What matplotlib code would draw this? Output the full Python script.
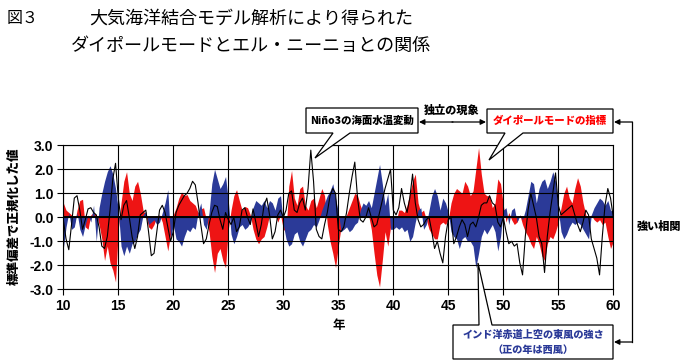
import numpy as np
import matplotlib
matplotlib.use("Agg")
import matplotlib.pyplot as plt
from matplotlib.patches import Polygon
from matplotlib.lines import Line2D

plt.rcParams['font.family'] = ['Noto Sans CJK JP', 'DejaVu Sans']
plt.rcParams['axes.unicode_minus'] = False

# quarterly samples, year 10 to 60
years = np.arange(10, 60.001, 0.25)

# dipole mode index (red)
dipole = (
    [0.6, 0.3, 0.2, 0.1, -0.3, 0.3, 0.7, 0.75, -0.4, -0.5, 0.1, 0.2, 0.1, -0.3, -0.9, -1.8, -1.2, -1.9, -2.2, -2.7,
     -0.5, 0.6, 1.5, 1.9, 1.0, 0.7, 1.3, 1.5, 1.0, 0.3, 0.1, -0.4, -0.5, -0.3, 0.05, 0.1, -0.2, -0.8, -1.4, -0.7]
    + [0.1, 0.4, 0.8, 1.05, 0.9, 0.95, 0.7, 0.6, 0.5, 0.2, 0.35, 0.4, -0.1, -0.6, -1.6, -2.3, -1.5, -1.3, -1.8, -2.1,
       -0.5, 0.3, 0.9, 1.15, 0.7, 0.3, 0.45, 0.4, 0.1, -0.5, -0.9, -1.1, -0.9, -0.8, -0.4, 0.1, 0.2, 0.1, -0.2, 0.1]
    + [-0.5, -0.6, 1.3, 1.95, 0.8, 0.5, 1.2, 1.3, 0.5, 0.3, 0.7, 0.8, 0.4, 0.8, 1.2, 0.9, -0.3, -1.0, -1.5, -2.1,
       -1.2, -0.4, -0.5, 0.1, 0.4, 0.7, 1.0, 0.9, 0.5, 0.2, 0.3, 0.1, -0.5, -1.5, -2.4, -2.9, -1.8, -0.6, -1.2, -0.4]
    + [-0.3, -0.2, 0.3, 0.3, 0.2, 0.5, 1.0, 1.5, 1.8, 0.6, 0.2, 0.3, -0.1, -0.5, -0.7, -0.9, -0.9, -0.3, -0.2, -0.3,
       -0.1, 0.6, 1.0, 1.2, 1.1, 1.0, 1.5, 1.3, 0.9, 1.1, 2.0, 2.9, 1.8, 1.0, 0.9, 0.9, 0.4, 0.6, 1.6, 1.4]
    + [0.5, -0.2, 0.2, -0.1, -0.3, -0.2, 0.1, -0.3, -0.6, -0.8, -1.1, -1.3, -0.8, -1.1, -1.6, -1.8, -1.1, -0.8, -0.9, -0.6,
       -0.2, 0.4, 1.0, 1.3, 0.8, 0.6, 1.2, 1.65, 1.3, 0.6, 0.1, -0.2, 0.1, -0.1, -0.2, -0.1, -0.3, -0.2, -0.8, -1.3, -1.0]
)

# equatorial Indian Ocean wind (blue)
wind = (
    [-1.3, -0.4, 0.2, -0.5, -0.4, 0.2, -0.5, -0.8, -0.3, 0.1, -0.2, 0.5, -1.0, 0.4, 1.0, 1.5, 1.9, 2.15, 1.8, 1.2,
     0.3, -1.2, -1.6, -1.2, -1.5, -1.1, -1.0, -0.7, -0.5, 0.1, 0.25, -0.3, -0.2, -0.1, -0.3, -0.2, 0.2, 0.6, 1.15, -0.9]
    + [-0.3, -0.9, -1.0, -1.2, -0.8, -0.5, -0.6, -0.4, -0.5, 0.2, 0.6, -0.3, -0.5, 0.2, 1.4, 2.0, 1.6, 1.2, 1.4, 1.7,
       0.7, -0.7, -1.1, -0.8, -0.4, -0.3, -0.5, -0.4, -0.2, 0.4, 0.7, 0.6, 0.5, 0.7, 0.4, 0.7, 0.6, 0.3, 0.8, 0.9]
    + [-0.3, -0.9, -1.2, -1.1, -0.7, -0.6, -1.0, -1.2, -0.9, -0.6, -0.5, -0.3, -0.4, -0.1, 0.3, 0.6, 0.9, 1.1, 1.4, 0.8,
       0.2, -0.6, -0.5, -0.4, -0.6, -0.5, -0.3, -0.2, 0.3, 0.6, 0.5, 0.7, 0.4, 1.0, 1.6, 2.2, 1.4, 0.5, 1.0, -0.5]
    + [-0.5, -0.4, -0.5, -0.4, -0.6, -0.5, -1.0, -0.8, -0.2, 0.3, 0.4, -0.5, -0.3, 0.3, 0.9, 1.2, 0.9, 0.3, 0.8, 0.6,
       0.2, -0.6, -0.8, -0.9, -1.3, -0.9, -0.8, -1.0, -1.0, -1.2, -2.1, -1.5, -0.8, -0.5, -0.7, -0.5, -0.3, -0.6, -1.4, -0.8]
    + [0.3, 0.4, -0.3, 0.3, 0.4, -0.2, 0.1, -0.1, 0.3, 0.9, 1.5, 1.4, 0.6, 1.2, 1.5, 1.6, 1.2, 1.5, 1.9, 1.5,
       0.3, -0.6, -0.9, -0.7, -0.4, -0.2, -0.3, -0.2, -0.3, -0.5, -0.7, -0.9, 0.1, 0.4, 0.6, 0.8, 0.7, 0.5, 0.7, 0.3, 0.2]
)

# Nino3 SST anomaly (black line)
nino3 = (
    [-0.1, -0.9, -1.35, -0.3, 0.8, 0.9, 0.3, -0.5, -0.1, 0.35, 0.4, 0.2, 0.1, -0.4, -1.2, -1.3, -0.8, 0.3, 1.6, 2.25,
     0.8, -0.1, 0.5, 0.7, 0.0, -0.8, -1.3, -0.8, 0.1, 0.2, 0.3, -0.6, -1.6, -1.5, -0.6, 0.3, 0.5, 0.2, -0.4, -1.0]
    + [-0.6, 0.2, 0.5, 0.7, 0.9, 1.0, 1.2, 1.5, 1.35, 0.6, -0.3, -1.1, -0.9, -0.3, 0.2, 0.5, 0.45, -0.1, -0.5, 0.2,
       -0.1, -0.3, 0.0, -0.6, -0.4, 0.3, 0.4, 0.0, -0.3, 0.35, -0.2, -0.8, -0.3, 0.5, 0.8, 0.1, -0.9, -0.6, 0.1, 0.3]
    + [0.0, 0.3, 1.0, 1.1, 0.3, 0.2, 0.6, 0.8, 0.3, 1.2, 2.8, 1.5, -0.5, -0.8, -0.9, -0.3, 0.2, 0.9, 1.2, 1.0,
       -0.5, -0.6, -0.4, 0.2, 1.0, 1.7, 2.3, 0.8, -0.1, -0.2, 0.0, 0.4, 0.0, -0.4, -0.3, 0.2, 0.7, 1.2, 1.6, 2.0]
    + [0.3, 0.1, 0.4, 1.2, 0.6, 0.2, 0.8, 1.8, 0.6, -0.1, -0.4, -0.3, -0.1, 0.0, -0.6, -1.3, -1.0, -1.5, -1.9, -0.8,
       -0.1, 0.0, -1.1, -0.8, -0.4, -0.1, -0.3, -0.8, -0.3, -0.2, -0.4, 0.0, 0.5, 0.6, 0.6, 0.9, 0.6, 0.5, -0.2, -0.4]
    + [0.0, -0.6, -1.1, -1.0, -1.2, -1.1, -1.9, -2.4, -0.8, 0.3, 1.0, 0.5, 0.0, -0.8, -1.1, -2.3, -0.8, 0.2, 1.0, 1.85,
       0.5, 0.1, 0.2, 0.3, 0.4, 0.5, 0.1, -0.3, -0.6, -0.2, 0.3, 0.1, -0.9, -1.3, -1.7, -2.4, -0.8, 0.5, 1.2, 0.8, 0.0]
)

RED = '#ee1414'
BLUE = '#2b3a98'
W, H = 688, 364


def fx(x):
    return x / W


def fy(y):
    return 1 - y / H


fig = plt.figure(figsize=(6.88, 3.64), dpi=100)
ax = fig.add_axes([fx(63.3), fy(289.3), (613.3 - 63.3) / W, (289.3 - 145.3) / H])

ax.fill_between(years, dipole, 0, interpolate=True, color=RED, lw=0, zorder=1)
ax.fill_between(years, wind, 0, interpolate=True, color=BLUE, lw=0, zorder=1.2)
ax.plot(years, nino3, color='black', lw=0.8, zorder=3)
ax.axhline(0, color='black', lw=1.4, zorder=2.8)

ax.set_xlim(10, 60)
ax.set_ylim(-3, 3)
ax.set_xticks(np.arange(10, 61, 5))
ax.set_yticks(np.arange(-3, 3.1, 1))
ax.set_yticklabels([f'{v:.1f}' for v in np.arange(-3, 3.1, 1)])
ax.set_axisbelow(False)
ax.grid(True, color='black', lw=0.8)
for s in ax.spines.values():
    s.set_linewidth(0.8)
ax.tick_params(direction='out', length=4.5, width=0.8, color='black', pad=2.5)
for lab in ax.get_xticklabels() + ax.get_yticklabels():
    lab.set_family('Liberation Sans')
    lab.set_fontweight('bold')
    lab.set_fontsize(10)

ax.set_xlabel('年', fontsize=9, fontweight='bold', labelpad=4)
fig.text(fx(13), fy(216), '標準偏差で正規化した値', rotation=90, ha='center', va='center',
         fontsize=9, fontweight='heavy')

# title
fig.text(fx(7), fy(18), '図３', ha='left', va='center', fontsize=11.5)
fig.text(fx(251), fy(19), '大気海洋結合モデル解析により得られた', ha='center', va='center', fontsize=13)
fig.text(fx(251), fy(46), 'ダイポールモードとエル・ニーニョとの関係', ha='center', va='center', fontsize=13)


def callout(pts):
    poly = Polygon([(fx(x), fy(y)) for x, y in pts], closed=True, transform=fig.transFigure,
                   facecolor='white', edgecolor='black', lw=0.9, zorder=5)
    fig.add_artist(poly)


callout([(306, 108), (418, 108), (418, 133), (350, 133), (315, 158), (333, 133), (306, 133)])
callout([(487, 109), (613, 109), (613, 133), (523, 133), (489, 160), (505, 133), (487, 133)])
callout([(453, 325), (479, 325), (478, 263), (492, 325), (613, 325), (613, 359), (453, 359)])

fig.text(fx(362), fy(121), 'Niño3の海面水温変動', ha='center', va='center', fontsize=7.5,
         fontweight='heavy', zorder=6)
fig.text(fx(550), fy(121), 'ダイポールモードの指標', ha='center', va='center', fontsize=7.5,
         fontweight='heavy', color='#ff0000', zorder=6)
fig.text(fx(533), fy(335), 'インド洋赤道上空の東風の強さ', ha='center', va='center', fontsize=7.3,
         fontweight='heavy', color=BLUE, zorder=6)
fig.text(fx(533), fy(350), '（正の年は西風）', ha='center', va='center', fontsize=7.3,
         fontweight='heavy', color=BLUE, zorder=6)
fig.text(fx(452), fy(110), '独立の現象', ha='center', va='center', fontsize=8, fontweight='heavy')
fig.text(fx(659), fy(226), '強い相関', ha='center', va='center', fontsize=8, fontweight='heavy')

arrow = dict(arrowstyle='-|>', color='black', lw=0.9, mutation_scale=8, shrinkA=0, shrinkB=0)
ax.annotate('', xy=(fx(419), fy(122)), xytext=(fx(453), fy(122)), xycoords='figure fraction',
            textcoords='figure fraction', arrowprops=arrow)
ax.annotate('', xy=(fx(486), fy(122)), xytext=(fx(452), fy(122)), xycoords='figure fraction',
            textcoords='figure fraction', arrowprops=arrow)
fig.add_artist(Line2D([fx(632), fx(632)], [fy(122), fy(342)], color='black', lw=0.9,
                      transform=fig.transFigure))
ax.annotate('', xy=(fx(614), fy(122)), xytext=(fx(632.4), fy(122)), xycoords='figure fraction',
            textcoords='figure fraction', arrowprops=arrow)
ax.annotate('', xy=(fx(614), fy(342)), xytext=(fx(632.4), fy(342)), xycoords='figure fraction',
            textcoords='figure fraction', arrowprops=arrow)

fig.savefig('out.png', dpi=100)
